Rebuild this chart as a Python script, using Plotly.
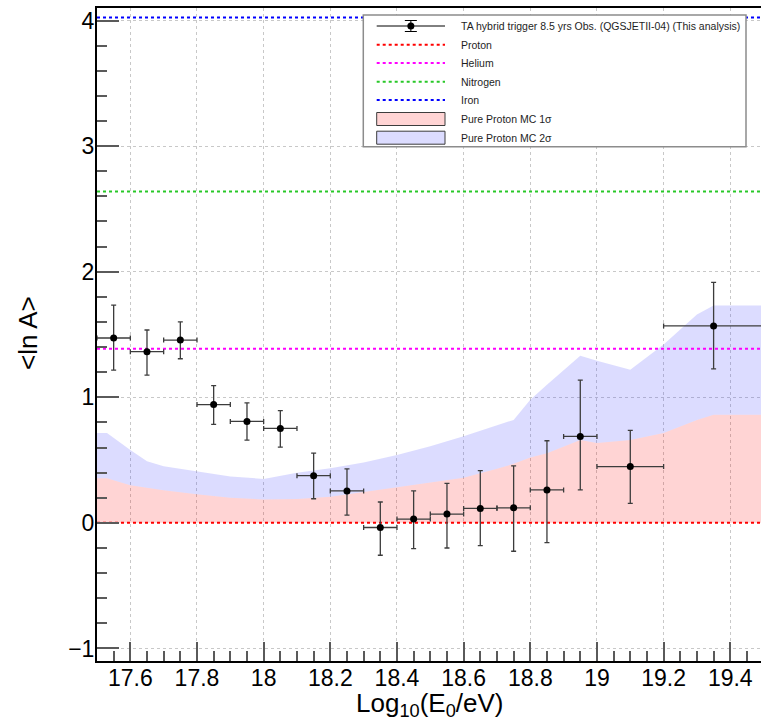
import plotly.graph_objects as go

# ---- measured <ln A> per energy bin ----
LOG_E = [17.55, 17.65, 17.75, 17.85, 17.95, 18.05, 18.15, 18.25, 18.35,
         18.45, 18.55, 18.65, 18.75, 18.85, 18.95, 19.10, 19.35]
LOG_E_HALFWIDTH = [0.05, 0.05, 0.05, 0.05, 0.05, 0.05, 0.05, 0.05, 0.05,
                   0.05, 0.05, 0.05, 0.05, 0.05, 0.05, 0.10, 0.15]
LN_A = [1.472, 1.363, 1.456, 0.942, 0.808, 0.752, 0.376, 0.254, -0.037,
        0.030, 0.070, 0.115, 0.120, 0.262, 0.688, 0.448, 1.568]
LN_A_ERR_UP = [0.262, 0.173, 0.144, 0.151, 0.147, 0.142, 0.179, 0.176, 0.203,
               0.224, 0.245, 0.301, 0.334, 0.392, 0.448, 0.288, 0.347]
LN_A_ERR_DOWN = [0.256, 0.187, 0.149, 0.158, 0.149, 0.149, 0.184, 0.192, 0.221,
                 0.235, 0.270, 0.296, 0.346, 0.419, 0.426, 0.293, 0.341]

# ---- pure proton MC spread ----
BAND_E = [17.50, 17.53, 17.60, 17.65, 17.70, 17.80, 17.90, 18.00, 18.10,
          18.20, 18.30, 18.40, 18.50, 18.60, 18.70, 18.75, 18.80, 18.85,
          18.95, 19.00, 19.10, 19.20, 19.30, 19.35, 19.50]
PROTON_1SIGMA = [0.355, 0.355, 0.300, 0.280, 0.260, 0.227, 0.200, 0.187, 0.190,
                 0.208, 0.245, 0.288, 0.325, 0.360, 0.430, 0.470, 0.520, 0.555,
                 0.660, 0.635, 0.660, 0.715, 0.820, 0.860, 0.860]
PROTON_2SIGMA = [0.715, 0.715, 0.580, 0.490, 0.450, 0.410, 0.370, 0.350, 0.400,
                 0.435, 0.480, 0.540, 0.610, 0.690, 0.780, 0.820, 0.980, 1.100,
                 1.330, 1.290, 1.220, 1.420, 1.660, 1.730, 1.730]

# ---- pure-composition reference levels ----
SPECIES = ["Proton", "Helium", "Nitrogen", "Iron"]
SPECIES_LN_A = [0.0, 1.386, 2.639, 4.025]
SPECIES_COLOR = ["rgb(255,0,0)", "rgb(255,0,255)", "rgb(40,200,40)", "rgb(0,0,255)"]

E_RANGE = [17.5, 19.5]

FONT = "Liberation Sans, Arial, Helvetica, sans-serif"
W, H = 761, 723
M_L, M_R, M_T, M_B = 97, 0, 8, 62
PW, PH = W - M_L - M_R, H - M_T - M_B


def fx(px):
    return (px - M_L) / PW


def fy(py):
    return (H - M_B - py) / PH


RED_FILL = "rgba(255,0,0,0.17)"
BLUE_FILL = "rgba(60,60,255,0.18)"

fig = go.Figure()

# 1 sigma band: from zero up to the 1 sigma edge
fig.add_trace(go.Scatter(x=BAND_E, y=[0.0] * len(BAND_E), mode="lines",
                         line=dict(width=0), hoverinfo="skip", showlegend=False))
fig.add_trace(go.Scatter(x=BAND_E, y=PROTON_1SIGMA, mode="lines", fill="tonexty",
                         fillcolor=RED_FILL, line=dict(width=0),
                         name="Pure Proton MC 1σ", showlegend=False))
# 2 sigma band: between the 1 sigma and 2 sigma edges
fig.add_trace(go.Scatter(x=BAND_E, y=PROTON_2SIGMA, mode="lines", fill="tonexty",
                         fillcolor=BLUE_FILL, line=dict(width=0),
                         name="Pure Proton MC 2σ", showlegend=False))

for name, lna, col in zip(SPECIES, SPECIES_LN_A, SPECIES_COLOR):
    fig.add_trace(go.Scatter(x=E_RANGE, y=[lna, lna], mode="lines", name=name,
                             line=dict(color=col, width=2, dash="dot"),
                             showlegend=False))

fig.add_trace(go.Scatter(
    x=LOG_E, y=LN_A, mode="markers",
    name="TA hybrid trigger 8.5 yrs Obs. (QGSJETII-04) (This analysis)",
    marker=dict(color="black", size=7),
    error_y=dict(type="data", symmetric=False, array=LN_A_ERR_UP,
                 arrayminus=LN_A_ERR_DOWN, color="rgb(60,60,60)",
                 thickness=1.3, width=2.5),
    error_x=dict(type="data", array=LOG_E_HALFWIDTH, color="rgb(60,60,60)",
                 thickness=1.3, width=2.5),
    showlegend=False,
))

# ---- legend box ----
shapes = []
annotations = []
LX0, LX1, LY0, LY1 = 363.3, 746, 15, 146.7
shapes.append(dict(type="rect", xref="paper", yref="paper", layer="above",
                   x0=fx(LX0), x1=fx(LX1), y0=fy(LY1), y1=fy(LY0),
                   line=dict(color="rgb(140,140,140)", width=1.5),
                   fillcolor="white"))
SYM_X0, SYM_X1, TXT_X = 376.7, 445, 458.7
ROWS = [26, 44.7, 63, 81.7, 100, 119, 137.7]
labels = ["TA hybrid trigger 8.5 yrs Obs. (QGSJETII-04) (This analysis)",
          "Proton", "Helium", "Nitrogen", "Iron",
          "Pure Proton MC 1σ", "Pure Proton MC 2σ"]

# data entry: line, error bar and marker
r0 = ROWS[0]
xc = (SYM_X0 + SYM_X1) / 2
shapes.append(dict(type="line", xref="paper", yref="paper", layer="above",
                   x0=fx(SYM_X0), x1=fx(SYM_X1), y0=fy(r0), y1=fy(r0),
                   line=dict(color="black", width=1)))
shapes.append(dict(type="line", xref="paper", yref="paper", layer="above",
                   x0=fx(xc), x1=fx(xc), y0=fy(r0 - 5.5), y1=fy(r0 + 5.5),
                   line=dict(color="black", width=1)))
for cy in (r0 - 5.5, r0 + 5.5):
    shapes.append(dict(type="line", xref="paper", yref="paper", layer="above",
                       x0=fx(xc - 6), x1=fx(xc + 6), y0=fy(cy), y1=fy(cy),
                       line=dict(color="black", width=1)))
shapes.append(dict(type="circle", xref="paper", yref="paper", layer="above",
                   x0=fx(xc - 3.5), x1=fx(xc + 3.5), y0=fy(r0 + 3.5), y1=fy(r0 - 3.5),
                   fillcolor="black", line=dict(color="black", width=0)))

# species entries: dotted lines
for row, col in zip(ROWS[1:5], SPECIES_COLOR):
    shapes.append(dict(type="line", xref="paper", yref="paper", layer="above",
                       x0=fx(SYM_X0), x1=fx(SYM_X1), y0=fy(row), y1=fy(row),
                       line=dict(color=col, width=2, dash="dot")))

# band entries: filled boxes
for row, fill in zip(ROWS[5:7], [RED_FILL, BLUE_FILL]):
    shapes.append(dict(type="rect", xref="paper", yref="paper", layer="above",
                       x0=fx(SYM_X0), x1=fx(SYM_X1), y0=fy(row + 6.5), y1=fy(row - 6.5),
                       fillcolor=fill, line=dict(color="rgb(60,60,60)", width=1)))

for row, txt in zip(ROWS, labels):
    annotations.append(dict(xref="paper", yref="paper", x=fx(TXT_X), y=fy(row),
                            xanchor="left", yanchor="middle", showarrow=False,
                            text=txt, font=dict(family=FONT, size=10.5,
                                                color="rgb(30,30,30)")))

# axis titles
annotations.append(dict(xref="paper", yref="paper", x=fx(429), y=fy(704),
                        xanchor="center", yanchor="middle", showarrow=False,
                        text="Log<sub>10</sub>(E<sub>0</sub>/eV)",
                        font=dict(family=FONT, size=26, color="black")))
annotations.append(dict(xref="paper", yref="paper", x=fx(28), y=fy(333),
                        xanchor="center", yanchor="middle", showarrow=False,
                        textangle=-90, text="&lt;ln A&gt;",
                        font=dict(family=FONT, size=26, color="black")))

axis_common = dict(
    showline=True, linecolor="black", linewidth=2,
    showgrid=True, gridcolor="rgb(200,200,200)", griddash="dot", gridwidth=1,
    zeroline=False, ticks="inside", tickcolor="rgb(90,90,90)", tickwidth=1.5,
    tickfont=dict(family=FONT, size=23, color="black"),
)

fig.update_layout(
    width=W, height=H,
    margin=dict(l=M_L, r=M_R, t=M_T, b=M_B),
    paper_bgcolor="white", plot_bgcolor="white",
    showlegend=False,
    shapes=shapes, annotations=annotations,
    xaxis=dict(range=[17.5, 17.5 + PW / 333.3], dtick=0.2, tick0=17.6,
               ticklen=19, mirror=True, ticklabelstandoff=-5,
               minor=dict(dtick=0.05, ticklen=10, ticks="inside",
                          tickcolor="rgb(90,90,90)", showgrid=False),
               **axis_common),
    yaxis=dict(range=[-1.1, 4.1], dtick=1, tick0=0, ticklen=22,
               ticklabelstandoff=-4,
               minor=dict(dtick=0.2, ticklen=10, ticks="inside",
                          tickcolor="rgb(90,90,90)", showgrid=False),
               **axis_common),
)

fig.write_html("out.html")
